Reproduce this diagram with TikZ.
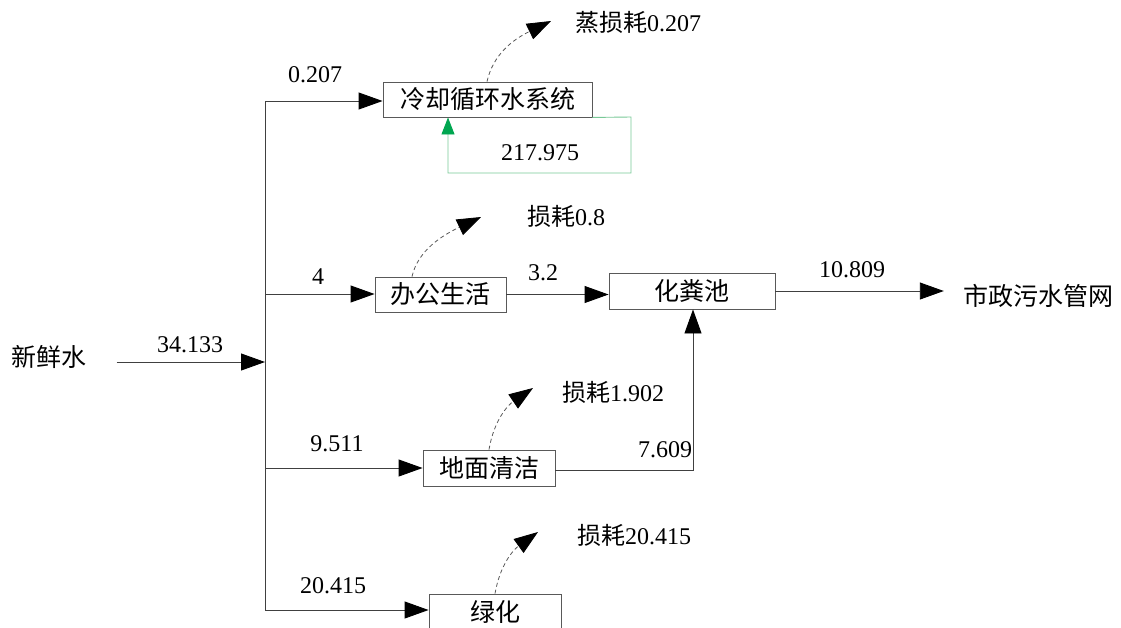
\documentclass[tikz,border=0pt]{standalone}
\usepackage{fontspec}
\setmainfont{Liberation Serif}
\newfontfamily\cjk{Noto Sans CJK SC}
\usetikzlibrary{arrows.meta}
\begin{document}
\begin{tikzpicture}[x=1pt,y=-1pt,
  line/.style={draw=black!75, line width=0.9pt},
  flow/.style={line, -{Triangle[length=24pt,width=17pt,fill=black,color=black]}},
  loss/.style={draw=black!65, line width=0.8pt, dashed, dash pattern=on 4pt off 3pt, -{Triangle[length=24pt,width=17pt,fill=black,color=black]}},
  box/.style={draw=black!65, line width=0.9pt, fill=white, inner sep=0pt, font=\fontsize{25}{25}\selectfont\cjk},
  lab/.style={font=\fontsize{24}{24}\selectfont, inner sep=0pt},
  clab/.style={font=\fontsize{25}{25}\selectfont\cjk, inner sep=0pt},
  mcj/.style={font=\fontsize{24}{24}\selectfont, inner sep=0pt}]
\useasboundingbox (0,0) rectangle (1121,627);

% boxes
\node[box, minimum width=209pt, minimum height=35pt] (cool) at (487.5,99.5) {冷却循环水系统};
\node[box, minimum width=131pt, minimum height=35pt] (office) at (440.5,294.5) {办公生活};
\node[box, minimum width=166pt, minimum height=36pt] (septic) at (692,291) {化粪池};
\node[box, minimum width=132pt, minimum height=36pt] (floor) at (489,468) {地面清洁};
\node[box, minimum width=132pt, minimum height=36pt] (green) at (495,612) {绿化};

% plain texts
\node[clab] (fresh) at (49,357) {新鲜水};
\node[clab] (city) at (1038,296) {市政污水管网};

% trunk
\coordinate (ttop) at (265,101);
\coordinate (tbot) at (265,610);
\coordinate (tin) at (265,362);
\coordinate (toff) at (265,294);
\coordinate (tfl) at (265,468);
\draw[line] (ttop) -- (tbot);

\draw[flow] ([xshift=30pt]fresh.east |- tin) -- (tin);
\draw[flow] (ttop) -- (cool.west |- ttop);
\draw[flow] (toff) -- (office.west |- toff);
\draw[flow] (tfl) -- (floor.west |- tfl);
\draw[flow] (tbot) -- (green.west |- tbot);

\draw[flow] (office.east) -- (septic.west |- office.east);
\draw[flow] (septic.east) -- ([xshift=-19pt]city.west |- septic.east);
\coordinate (fc) at (693,470);
\draw[flow] (floor.east |- fc) -- (fc) -- (septic.south -| fc);

% green loop
\coordinate (g1) at (631,117);
\coordinate (g2) at (631,173);
\coordinate (g3) at (448,173);
\draw[draw={rgb,255:red,120;green,200;blue,150}, line width=0.9pt, -{Triangle[length=17pt,width=13pt,fill={rgb,255:red,0;green,166;blue,80},color={rgb,255:red,0;green,166;blue,80}]}]
  (cool.south east) -- (g1) -- (g2) -- (g3) -- (cool.south -| g3);

% losses
\coordinate (l1) at (551,21);
\coordinate (l2) at (481,217);
\coordinate (l3) at (533,388);
\coordinate (l4) at (538,532);
\draw[loss] (cool.north -| 487,0) .. controls (493,55) and (512,40) .. (l1);
\draw[loss] (office.north -| 412,0) .. controls (418,250) and (443,235) .. (l2);
\draw[loss] (floor.north -| 489,0) .. controls (494,420) and (508,405) .. (l3);
\draw[loss] (green.north -| 495,0) .. controls (500,565) and (513,550) .. (l4);

% labels
\node[lab] (n1) at (190,345) {34.133};
\node[lab] (n2) at (315,75) {0.207};
\node[lab] (n3) at (540,153) {217.975};
\node[mcj] (n4) at (638,22) {{\cjk 蒸损耗}0.207};
\node[lab] (n5) at (318,277) {4};
\node[mcj] (n6) at (566,216) {{\cjk 损耗}0.8};
\node[lab] (n7) at (543,273) {3.2};
\node[lab] (n8) at (852,270) {10.809};
\node[lab] (n9) at (337,444) {9.511};
\node[lab] (n10) at (665,450) {7.609};
\node[mcj] (n11) at (613,392) {{\cjk 损耗}1.902};
\node[lab] (n12) at (333,586) {20.415};
\node[mcj] (n13) at (634,535) {{\cjk 损耗}20.415};
\end{tikzpicture}
\end{document}
